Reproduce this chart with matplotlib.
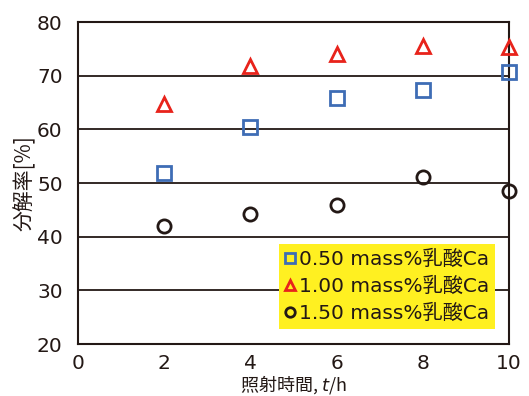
import matplotlib
matplotlib.use("Agg")
import matplotlib.pyplot as plt

plt.rcParams['font.family'] = ['DejaVu Sans', 'Noto Sans CJK JP']
plt.rcParams['mathtext.fontset'] = 'dejavusans'

hours = [2, 4, 6, 8, 10]
s050 = [51.9, 60.4, 65.8, 67.3, 70.7]
s100 = [64.7, 71.8, 74.0, 75.5, 75.4]
s150 = [42.0, 44.2, 45.9, 51.1, 48.5]
labels = ['0.50 mass%乳酸Ca', '1.00 mass%乳酸Ca', '1.50 mass%乳酸Ca']
xticks = [0, 2, 4, 6, 8, 10]
yticks = [20, 30, 40, 50, 60, 70, 80]

txt = '#231815'
fig = plt.figure(figsize=(5.29, 3.96), dpi=100)
ax = fig.add_axes([78/529, 1 - 344/396, (509-78)/529, (344-22)/396])

for v in [30, 40, 50, 60, 70]:
    ax.axhline(v, color=txt, lw=1.3, zorder=1)

ax.plot(hours, s050, 's', ms=9.5, mfc='none', mec='#3E6DB5', mew=2.0, label=labels[0], clip_on=False, zorder=3)
ax.plot(hours, s100, '^', ms=10.5, mfc='none', mec='#E8231B', mew=2.0, label=labels[1], clip_on=False, zorder=3)
ax.plot(hours, s150, 'o', ms=9.5, mfc='none', mec=txt, mew=2.0, label=labels[2], clip_on=False, zorder=3)

ax.set_xlim(0, 10)
ax.set_ylim(20, 80)
ax.set_xticks(xticks)
ax.set_yticks(yticks)
ax.tick_params(length=0, labelsize=14.5, colors=txt)
ax.tick_params(axis='y', pad=11)
ax.tick_params(axis='x', pad=7.5)
for s in ax.spines.values():
    s.set_color(txt)
    s.set_linewidth(1.5)

ax.set_ylabel('分解率[%]', fontsize=15, color=txt, labelpad=1,
              family=['Noto Sans CJK JP', 'DejaVu Sans'])
ax.set_xlabel('照射時間, $t$/h', fontsize=13, color=txt, labelpad=0,
              family=['Noto Sans CJK JP', 'DejaVu Sans'])

leg = ax.legend(loc='lower right', bbox_to_anchor=(0.968, 0.047), fontsize=14.5,
                frameon=True, fancybox=False, handlelength=0.55, handletextpad=0.15,
                borderpad=0.3, labelspacing=0.38, markerscale=0.72, borderaxespad=0)
leg.get_frame().set_facecolor('#FFF021')
leg.get_frame().set_edgecolor('none')
leg.get_frame().set_alpha(1)
for t in leg.get_texts():
    t.set_color(txt)

fig.savefig('out.png', dpi=100)
